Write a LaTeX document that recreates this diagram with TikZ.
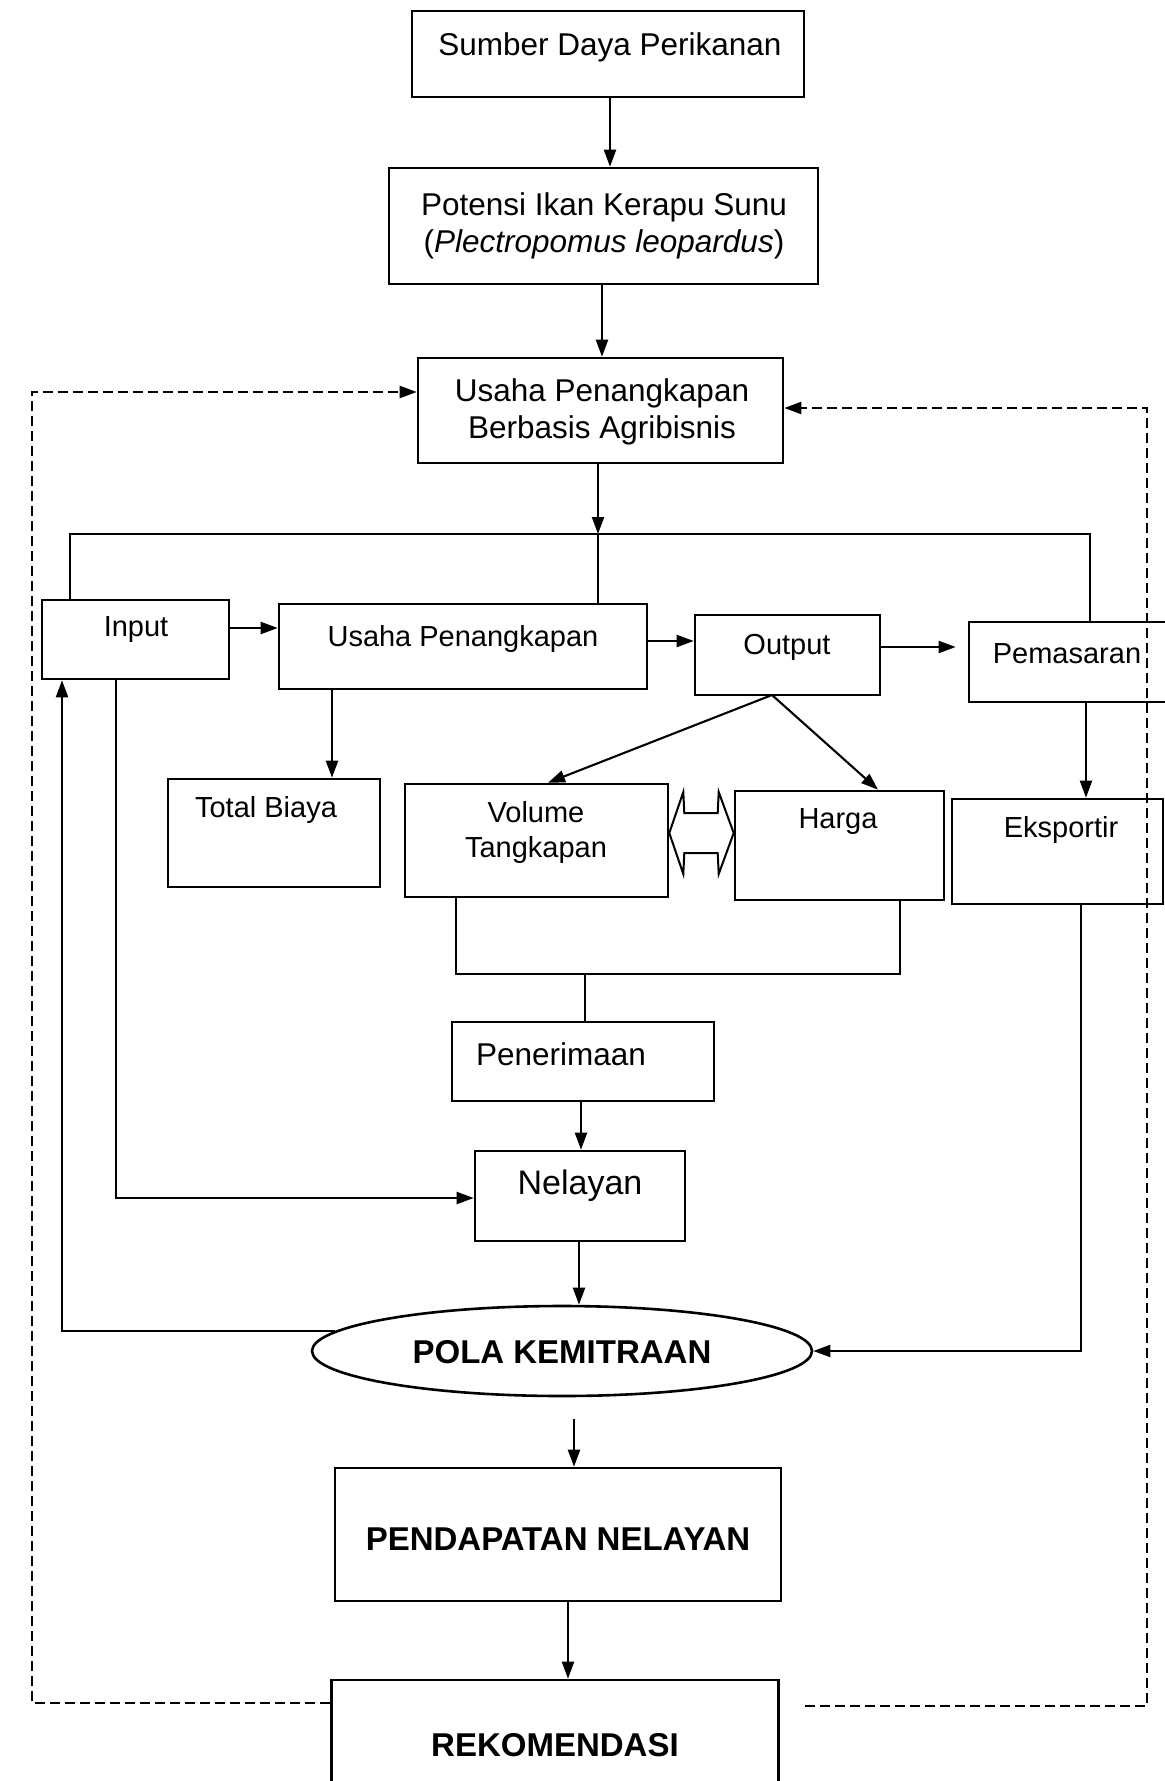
\documentclass[tikz,border=0pt]{standalone}
\usepackage{fontspec}
\setmainfont{Liberation Sans}
\usetikzlibrary{arrows.meta,shapes.geometric,calc}
\begin{document}
\begin{tikzpicture}[x=1pt,y=-1pt,
  box/.style={draw, line width=2.6pt, inner sep=0pt},
  lbl/.style={font=\fontsize{29}{35}\selectfont, align=center, inner sep=0pt},
  lblbig/.style={font=\fontsize{31.5}{37}\selectfont, align=center, inner sep=0pt},
  lblnel/.style={font=\fontsize{34}{40}\selectfont, inner sep=0pt},
  lblbold/.style={font=\fontsize{33}{39}\selectfont\bfseries, inner sep=0pt},
  conn/.style={line width=2.1pt},
  arr/.style={conn, -{Triangle[length=17pt,width=12pt]}},
  dsh/.style={line width=2.2pt, dash pattern=on 10pt off 5pt},
  dsharr/.style={dsh, -{Triangle[length=17pt,width=12pt]}}]
\useasboundingbox (0,0) rectangle (1165,1781);
\fill[white] (0,0) rectangle (1165,1781);

% boxes
\node[box, minimum width=392pt, minimum height=86pt] (sumber) at (608,54) {};
\node[box, minimum width=429pt, minimum height=116pt] (potensi) at (603.5,226) {};
\node[box, minimum width=365pt, minimum height=105pt] (berb) at (600.5,410.5) {};
\node[box, minimum width=187pt, minimum height=79pt] (input) at (135.5,639.5) {};
\node[box, minimum width=368pt, minimum height=85pt] (usaha) at (463,646.5) {};
\node[box, minimum width=185pt, minimum height=80pt] (output) at (787.5,655) {};
\node[box, minimum width=199pt, minimum height=80pt] (pemas) at (1068.5,662) {};
\node[box, minimum width=212pt, minimum height=108pt] (totb) at (274,833) {};
\node[box, minimum width=263pt, minimum height=113pt] (vol) at (536.5,840.5) {};
\node[box, minimum width=209pt, minimum height=109pt] (harga) at (839.5,845.5) {};
\node[box, minimum width=211pt, minimum height=105pt] (eks) at (1057.5,851.5) {};
\node[box, minimum width=262pt, minimum height=79pt] (pener) at (583,1061.5) {};
\node[box, minimum width=210pt, minimum height=90pt] (nel) at (580,1196) {};
\node[box, ellipse, minimum width=500pt, minimum height=90pt] (pola) at (562,1351) {};
\node[box, minimum width=446pt, minimum height=133pt] (pend) at (558,1534.5) {};
\node[box, minimum width=447pt, minimum height=124pt] (rek) at (555,1742) {};

% labels
\node[lblbig] (sumbert) at (610,47) {Sumber Daya Perikanan};
\node[lblbig] (potensit) at (604,226) {Potensi Ikan Kerapu Sunu\\(\textit{Plectropomus leopardus})};
\node[lblbig] (berbt) at (602,412) {Usaha Penangkapan\\Berbasis Agribisnis};
\node[lbl] (inputt) at (136,630) {Input};
\node[lbl] (usahat) at (463,639) {Usaha Penangkapan};
\node[lbl] (outputt) at (787,647) {Output};
\node[lbl] (pemast) at (1067,654) {Pemasaran};
\node[lbl] (totbt) at (266,810) {Total Biaya};
\node[lbl] (volt) at (536,832) {Volume\\Tangkapan};
\node[lbl] (hargat) at (838,822) {Harga};
\node[lbl] (ekst) at (1061,830) {Eksportir};
\node[lblbig] (penert) at (561,1054) {Penerimaan};
\node[lblnel] (nelt) at (580,1186) {Nelayan};
\node[lblbold] (polat) at (562,1352) {POLA KEMITRAAN};
\node[lblbold] (pendt) at (558,1539) {PENDAPATAN NELAYAN};
\node[lblbold] (rekt) at (555,1745) {REKOMENDASI};

% helper coordinates
\coordinate (busL) at (70,534);
\coordinate (busR) at (1090,534);
\coordinate (busM) at (598,534);
\coordinate (brkL) at (456,974);
\coordinate (brkR) at (900,974);
\coordinate (brkM) at (585,974);
\coordinate (inx) at (116,0);
\coordinate (upx) at (62,0);
\coordinate (eksx) at (1081,0);
\coordinate (dL) at (32,392);
\coordinate (dR) at (1147,408);
\coordinate (outb) at (772,695);

% main vertical flow
\draw[arr] (sumber.south -| 610,0) -- (potensi.north -| 610,0);
\draw[arr] (potensi.south -| 602,0) -- (berb.north -| 602,0);
\draw[arr] (berb.south -| busM) -- (busM);
\draw[conn] (busM) -- (usaha.north -| busM);
\draw[conn] (input.north -| busL) -- (busL) -- (busR) -- (pemas.north -| busR);

% middle row
\draw[arr] (input.east |- 0,628) -- (usaha.west |- 0,628);
\draw[arr] (usaha.east |- 0,641) -- (output.west |- 0,641);
\draw[arr] (output.east |- 0,647) -- ($(pemas.west |- 0,647)+(-12,0)$);
\draw[arr] (usaha.south -| 332,0) -- (totb.north -| 332,0);
\draw[arr] (outb) -- (vol.north -| 548,0);
\draw[arr] (outb) -- (harga.north -| 878,0);
\draw[arr] (pemas.south -| 1086,0) -- (eks.north -| 1086,0);

% double arrow between Volume and Harga
\coordinate (dl) at (vol.east |- 0,833);
\coordinate (dr) at (harga.west |- 0,833);
\draw[line width=2pt, line join=miter]
  (dl) -- ++(14,-41) -- ++(1,21) -- ($(dr)+(-16,-20)$) -- ++(1,-21) -- (dr)
  -- ++(-15,41) -- ++(-1,-21) -- ($(dl)+(15,20)$) -- ++(-1,21) -- cycle;

% bracket to Penerimaan
\draw[conn] (vol.south -| brkL) -- (brkL) -- (brkR) -- (harga.south -| brkR);
\draw[conn] (brkM) -- (pener.north -| brkM);
\draw[arr] (pener.south -| 581,0) -- (nel.north -| 581,0);

% input to nelayan
\draw[arr] (input.south -| inx) |- (nel.west |- 0,1198);

% nelayan to pola
\draw[arr] (nel.south -| 579,0) -- (pola.north -| 579,0);

% pola back to input
\draw[arr] (pola.175) -| (input.south -| upx);

% eksportir to pola
\draw[arr] (eks.south -| eksx) |- (pola.east);

% pola to pendapatan to rekomendasi
\draw[arr, shorten <=22pt] (pola.south -| 574,0) -- (pend.north -| 574,0);
\draw[arr] (pend.south -| 568,0) -- (rek.north -| 568,0);

% dashed feedback
\draw[dsharr] (rek.west |- 0,1703) -| (dL) -- (berb.west |- dL);
\draw[dsharr, shorten <=25pt] (rek.east |- 0,1706) -| (dR) -- (berb.east |- dR);
\end{tikzpicture}
\end{document}
